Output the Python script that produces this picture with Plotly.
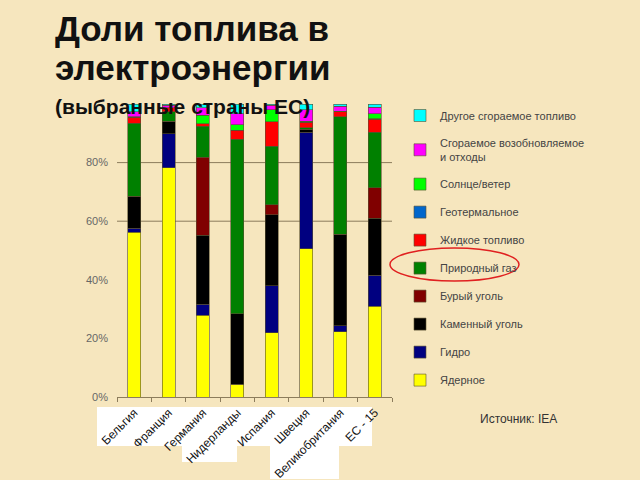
import plotly.graph_objects as go

countries = ["Бельгия", "Франция", "Германия", "Нидерланды", "Испания",
             "Швеция", "Великобритания", "ЕС - 15"]

# shares, %
nuclear   = [56.3, 78.2, 28.0, 4.3, 22.0, 50.5, 22.3, 31.1]
hydro     = [1.3, 11.6, 3.8, 0.0, 15.9, 39.7, 2.0, 10.6]
hard_coal = [10.9, 4.3, 23.6, 24.1, 24.3, 1.1, 31.4, 19.4]
lignite   = [0.0, 0.0, 26.8, 0.0, 3.4, 0.0, 0.0, 10.5]
gas       = [25.0, 3.2, 10.6, 59.5, 20.0, 0.5, 40.1, 18.9]
oil       = [2.0, 1.4, 0.8, 3.1, 8.3, 1.8, 1.7, 4.5]
geotherm  = [0.0, 0.0, 0.0, 0.0, 0.0, 0.0, 0.0, 0.2]
solar     = [0.2, 0.0, 3.0, 2.0, 4.2, 0.4, 0.2, 1.6]
renew     = [1.7, 0.8, 2.5, 3.6, 1.5, 4.0, 1.7, 2.3]
other     = [2.6, 0.5, 1.3, 3.4, 0.4, 1.9, 0.8, 1.1]

series = [
    ("Ядерное", nuclear, "#FFFF00"),
    ("Гидро", hydro, "#000080"),
    ("Каменный уголь", hard_coal, "#000000"),
    ("Бурый уголь", lignite, "#800000"),
    ("Природный газ", gas, "#008000"),
    ("Жидкое топливо", oil, "#FF0000"),
    ("Геотермальное", geotherm, "#0066CC"),
    ("Солнце/ветер", solar, "#00FF00"),
    ("Сгораемое возобновляемое<br>и отходы", renew, "#FF00FF"),
    ("Другое сгораемое топливо", other, "#00FFFF"),
]

BG = "#F6E6BE"
L, R, T, B = 117, 248, 104, 83
PW, PH = 640 - L - R, 480 - T - B


def px(x):
    return (x - L) / PW


def py(y):
    return (480 - B - y) / PH


fig = go.Figure()
for i, (name, vals, col) in enumerate(series):
    fig.add_trace(go.Bar(
        x=countries, y=vals, name=name, legendgroup=str(i),
        legendrank=100 - i,
        marker=dict(color=col, line=dict(color="#5a5030", width=0.6)),
    ))

shapes = []
# white label backgrounds (as in the original slide)
for x0, y0, x1, y1 in [(97, 407, 372, 446), (182, 445, 237, 462), (270, 445, 339, 479)]:
    shapes.append(dict(type="rect", xref="paper", yref="paper", layer="below",
                       x0=px(x0), x1=px(x1), y0=py(y1), y1=py(y0),
                       fillcolor="white", line=dict(width=0)))
# grid lines
for g in [0.6, 0.8]:
    shapes.append(dict(type="line", xref="paper", yref="y", layer="below",
                       x0=0, x1=1, y0=g, y1=g, line=dict(color="#8c7c5c", width=1)))
# red ellipse around natural gas
shapes.append(dict(type="circle", xref="paper", yref="paper",
                   x0=px(390), x1=px(519), y0=py(281), y1=py(248),
                   line=dict(color="#E02020", width=1.5)))

annotations = [
    dict(text="<b>Доли топлива в</b>", x=px(53), y=py(7), xref="paper", yref="paper",
         xanchor="left", yanchor="top", showarrow=False,
         font=dict(size=35, color="#111111", family="Liberation Sans, Arial")),
    dict(text="<b>электроэнергии</b>", x=px(53), y=py(46), xref="paper", yref="paper",
         xanchor="left", yanchor="top", showarrow=False,
         font=dict(size=35, color="#111111", family="Liberation Sans, Arial")),
    dict(text="<b>(выбранные страны ЕС)</b>", x=px(53), y=py(93), xref="paper", yref="paper",
         xanchor="left", yanchor="top", showarrow=False,
         font=dict(size=21, color="#111111", family="Liberation Sans, Arial")),
    dict(text="Источник: IEA", x=px(478), y=py(419), xref="paper", yref="paper",
         xanchor="left", yanchor="middle", showarrow=False,
         font=dict(size=12, color="#333333", family="Liberation Sans, Arial")),
]

fig.update_layout(
    width=640, height=480,
    margin=dict(l=L, r=R, t=T, b=B, autoexpand=False),
    paper_bgcolor=BG, plot_bgcolor=BG,
    barmode="stack", barnorm="fraction", bargap=0.62,
    showlegend=True,
    legend=dict(x=px(400), y=py(101), xanchor="left", yanchor="top",
                tracegroupgap=9, maxheight=420,
                font=dict(size=11, color="#444444", family="Liberation Sans, Arial"),
                bgcolor="rgba(0,0,0,0)", itemclick=False),
    xaxis=dict(showline=True, linecolor="#8c7c5c", linewidth=1, automargin=False,
               ticks="outside", tickson="boundaries", ticklen=4, tickcolor="#8c7c5c",
               tickangle=-45, showgrid=False, ticklabelstandoff=3,
               tickfont=dict(size=12, color="#111111", family="Liberation Sans, Arial")),
    yaxis=dict(range=[0, 1], tickvals=[0, 0.2, 0.4, 0.6, 0.8],
               ticktext=["0%", "20%", "40%", "60%", "80%"], automargin=False,
               showgrid=False, zeroline=False, showline=False,
               ticks="", ticklabelstandoff=8,
               tickfont=dict(size=11, color="#666666", family="Liberation Sans, Arial")),
    shapes=shapes, annotations=annotations,
)

fig.write_html("out.html")
